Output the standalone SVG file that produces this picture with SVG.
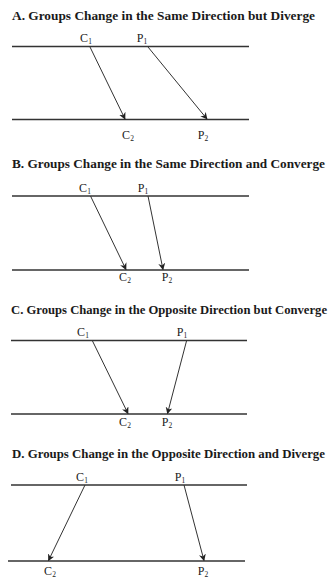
<svg xmlns="http://www.w3.org/2000/svg" width="335" height="579" viewBox="0 0 335 579">
<style>
.title{font-family:"Liberation Serif","Times New Roman",Times,serif;font-weight:bold;font-size:13.2px;fill:#1a1a1a}
.lbl{font-family:"Liberation Serif","Times New Roman",Times,serif;font-size:12px;fill:#1a1a1a;text-anchor:middle}
.sub{font-size:7.5px}
.axis{stroke:#333;stroke-width:1.3;fill:none}
.arr{stroke:#333;stroke-width:1;fill:none;marker-end:url(#ah)}
</style>
<defs>
<marker id="ah" viewBox="0 0 10 10" refX="9" refY="5" markerWidth="7" markerHeight="7" markerUnits="userSpaceOnUse" orient="auto">
<path d="M0,0 L10,5 L0,10 L3,5 Z" fill="#222"/>
</marker>
</defs>
<rect width="335" height="579" fill="#fff"/>

<g id="panelA">
<text class="title" x="12" y="20" textLength="303" lengthAdjust="spacingAndGlyphs">A.  Groups Change in the Same Direction but Diverge</text>
<line class="axis" x1="12" y1="46.5" x2="249" y2="46.5"/>
<line class="axis" x1="12" y1="119.5" x2="249" y2="119.5"/>
<text class="lbl" x="86" y="42">C<tspan class="sub" dy="2">1</tspan></text>
<text class="lbl" x="142" y="42">P<tspan class="sub" dy="2">1</tspan></text>
<text class="lbl" x="128" y="139">C<tspan class="sub" dy="2">2</tspan></text>
<text class="lbl" x="203" y="139">P<tspan class="sub" dy="2">2</tspan></text>
</g>

<g id="panelB">
<text class="title" x="12" y="168" textLength="313" lengthAdjust="spacingAndGlyphs">B.  Groups Change in the Same Direction and Converge</text>
<line class="axis" x1="12" y1="196" x2="249" y2="196"/>
<line class="axis" x1="12" y1="270" x2="249" y2="270"/>
<text class="lbl" x="85" y="192">C<tspan class="sub" dy="2">1</tspan></text>
<text class="lbl" x="143" y="192">P<tspan class="sub" dy="2">1</tspan></text>
<text class="lbl" x="125" y="281">C<tspan class="sub" dy="2">2</tspan></text>
<text class="lbl" x="167" y="281">P<tspan class="sub" dy="2">2</tspan></text>
</g>

<g id="panelC">
<text class="title" x="11" y="313.5" style="font-size:12.6px" textLength="316" lengthAdjust="spacingAndGlyphs">C.  Groups Change in the Opposite Direction but Converge</text>
<line class="axis" x1="11" y1="340.5" x2="247" y2="340.5"/>
<line class="axis" x1="11" y1="414" x2="247" y2="414"/>
<text class="lbl" x="83" y="336">C<tspan class="sub" dy="2">1</tspan></text>
<text class="lbl" x="182" y="336">P<tspan class="sub" dy="2">1</tspan></text>
<text class="lbl" x="125" y="426">C<tspan class="sub" dy="2">2</tspan></text>
<text class="lbl" x="167" y="426">P<tspan class="sub" dy="2">2</tspan></text>
</g>

<g id="panelD">
<text class="title" x="12" y="458" textLength="313" lengthAdjust="spacingAndGlyphs">D.  Groups Change in the Opposite Direction and Diverge</text>
<line class="axis" x1="11" y1="485" x2="247" y2="485"/>
<line class="axis" x1="8" y1="561" x2="245" y2="561"/>
<text class="lbl" x="82" y="481">C<tspan class="sub" dy="2">1</tspan></text>
<text class="lbl" x="180" y="481">P<tspan class="sub" dy="2">1</tspan></text>
<text class="lbl" x="50" y="575">C<tspan class="sub" dy="2">2</tspan></text>
<text class="lbl" x="203" y="575">P<tspan class="sub" dy="2">2</tspan></text>
</g>

<g id="connectors">
<line class="arr" x1="90" y1="47" x2="125" y2="119"/>
<line class="arr" x1="148" y1="47" x2="207" y2="119"/>
<line class="arr" x1="90.5" y1="196" x2="126" y2="269.5"/>
<line class="arr" x1="148" y1="196" x2="163" y2="269.5"/>
<line class="arr" x1="92.5" y1="341" x2="128" y2="413.5"/>
<line class="arr" x1="186.5" y1="341" x2="167.5" y2="413.5"/>
<line class="arr" x1="85" y1="485" x2="48.5" y2="560.5"/>
<line class="arr" x1="184" y1="485" x2="204" y2="560.5"/>
</g>
</svg>
